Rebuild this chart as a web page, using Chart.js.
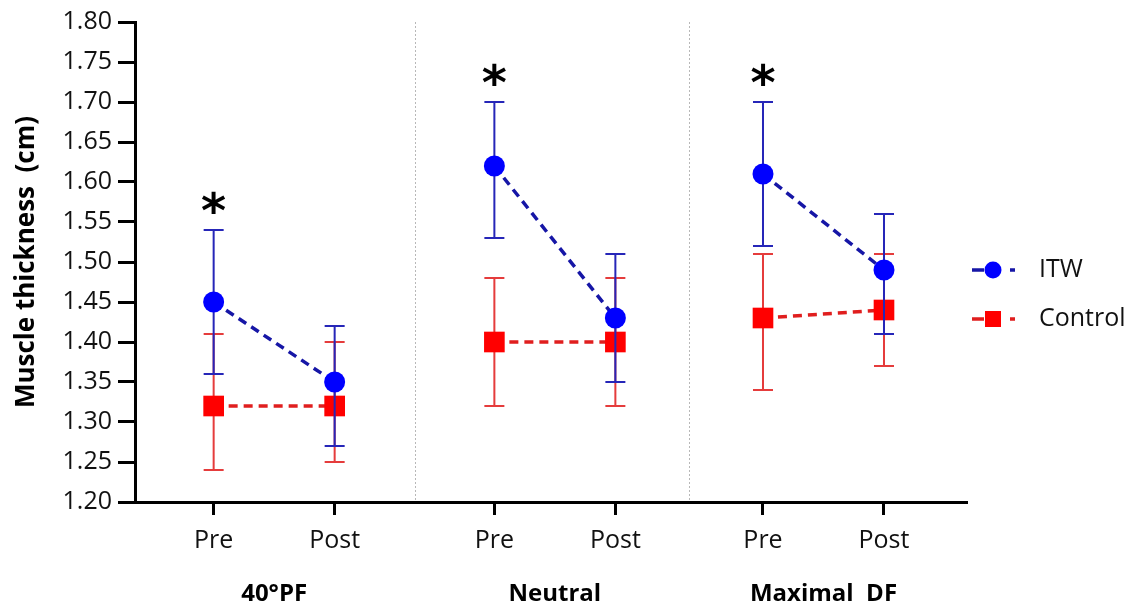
<!DOCTYPE html>
<html><head><meta charset="utf-8">
<script src="https://cdn.jsdelivr.net/npm/chart.js@4"></script>
<style>html,body{margin:0;padding:0;background:#fff}#wrap{width:1131px;height:610px}</style>
</head><body><div id="wrap"><canvas id="c" width="1131" height="610"></canvas></div>
<script>
// ---------- data ----------
const conditions = ['40°PF', 'Neutral', 'Maximal  DF'];
const timepoints = ['Pre', 'Post'];
const yTickLabels = ['1.20','1.25','1.30','1.35','1.40','1.45','1.50','1.55','1.60','1.65','1.70','1.75','1.80'];
const seriesNames = ['ITW', 'Control'];

const itwMean  = [1.45, 1.35, 1.62, 1.43, 1.61, 1.49];
const itwLow   = [1.36, 1.27, 1.53, 1.35, 1.52, 1.41];
const itwHigh  = [1.54, 1.42, 1.70, 1.51, 1.70, 1.56];

const ctrlMean = [1.32, 1.32, 1.40, 1.40, 1.43, 1.44];
const ctrlLow  = [1.24, 1.25, 1.32, 1.32, 1.34, 1.37];
const ctrlHigh = [1.41, 1.40, 1.48, 1.48, 1.51, 1.51];

const itwSignificant = [true, false, true, false, true, false];

// ---------- layout ----------
const FONT = '"Open Sans", sans-serif';
const GROUP_START = [0.65, 2.97, 5.19];
const X_MAX = 6.876;
const xPos = [];
conditions.forEach((c, g) => timepoints.forEach((t, k) => xPos.push(GROUP_START[g] + k)));
const tickText = [];
conditions.forEach(() => timepoints.forEach(t => tickText.push(t)));

function buildPoints(mean) {
  const pts = [];
  mean.forEach((v, i) => {
    pts.push({ x: xPos[i], y: v });
    if (i % 2 === 1 && i < mean.length - 1) pts.push({ x: xPos[i] + 0.3, y: null });
  });
  return pts;
}

const STY = {
  itw:  { marker: '#0000ff', line: '#1616a6', bar: '#2626b8' },
  ctrl: { marker: '#ff0000', line: '#e01e1e', bar: '#e53c3c' }
};

const plugin = {
  id: 'custom',
  beforeDatasetsDraw(chart) {
    const ctx = chart.ctx, xs = chart.scales.x, a = chart.chartArea;
    ctx.save();
    ctx.strokeStyle = '#b8b8b8'; ctx.lineWidth = 1; ctx.setLineDash([2, 2]);
    for (let g = 0; g < conditions.length - 1; g++) {
      const xv = (xPos[g * 2 + 1] + xPos[g * 2 + 2]) / 2;
      const px = Math.round(xs.getPixelForValue(xv)) + 0.5;
      ctx.beginPath(); ctx.moveTo(px, a.top); ctx.lineTo(px, a.bottom); ctx.stroke();
    }
    ctx.restore();
  },
  beforeDatasetDraw(chart, args) {
    const b = args.index === 0 ? { lo: itwLow, hi: itwHigh, c: STY.itw.bar } : { lo: ctrlLow, hi: ctrlHigh, c: STY.ctrl.bar };
    const ctx = chart.ctx, xs = chart.scales.x, ys = chart.scales.y;
    ctx.save(); ctx.strokeStyle = b.c; ctx.lineWidth = 2; ctx.setLineDash([]);
    xPos.forEach((xv, i) => {
      const px = xs.getPixelForValue(xv);
      const y1 = ys.getPixelForValue(b.lo[i]), y2 = ys.getPixelForValue(b.hi[i]);
      ctx.beginPath();
      ctx.moveTo(px, y1); ctx.lineTo(px, y2);
      ctx.moveTo(px - 10, y1); ctx.lineTo(px + 10, y1);
      ctx.moveTo(px - 10, y2); ctx.lineTo(px + 10, y2);
      ctx.stroke();
    });
    ctx.restore();
  },
  afterDraw(chart) {
    const ctx = chart.ctx, xs = chart.scales.x, ys = chart.scales.y;
    ctx.save();
    // asterisks
    ctx.fillStyle = '#000';
    ctx.font = 'bold 48px "DejaVu Sans", sans-serif';
    ctx.textAlign = 'center'; ctx.textBaseline = 'alphabetic';
    const m = ctx.measureText('*');
    itwSignificant.forEach((s, i) => {
      if (!s) return;
      const px = xs.getPixelForValue(xPos[i]);
      const cy = ys.getPixelForValue(itwHigh[i]) - 28;
      ctx.fillText('*', px, cy + (m.actualBoundingBoxAscent - m.actualBoundingBoxDescent) / 2);
    });
    // group labels
    ctx.font = 'bold 24px ' + FONT;
    ctx.textBaseline = 'middle';
    conditions.forEach((c, g) => {
      const px = (xs.getPixelForValue(xPos[g * 2]) + xs.getPixelForValue(xPos[g * 2 + 1])) / 2;
      ctx.fillText(c, px, 594);
    });
    // y title
    ctx.save();
    ctx.translate(27, 262); ctx.rotate(-Math.PI / 2);
    ctx.font = 'bold 26px ' + FONT;
    ctx.fillText('Muscle thickness  (cm)', 0, 0);
    ctx.restore();
    // legend
    const items = [
      { name: seriesNames[0], s: STY.itw, y: 270, shape: 'circle' },
      { name: seriesNames[1], s: STY.ctrl, y: 319, shape: 'square' }
    ];
    items.forEach(it => {
      ctx.strokeStyle = it.s.line; ctx.lineWidth = 3.5; ctx.setLineDash([]);
      ctx.beginPath(); ctx.moveTo(972, it.y); ctx.lineTo(984, it.y); ctx.moveTo(1010, it.y); ctx.lineTo(1015, it.y); ctx.stroke();
      ctx.fillStyle = it.s.marker;
      if (it.shape === 'circle') { ctx.beginPath(); ctx.arc(993, it.y, 8.5, 0, Math.PI * 2); ctx.fill(); }
      else { ctx.fillRect(985, it.y - 8, 16, 16); }
      ctx.fillStyle = '#111';
      ctx.font = '25px ' + FONT; ctx.textAlign = 'left'; ctx.textBaseline = 'middle';
      ctx.fillText(it.name, 1039, it.y);
    });
    ctx.restore();
  }
};

new Chart(document.getElementById('c'), {
  type: 'line',
  data: {
    datasets: [
      {
        label: seriesNames[0], data: buildPoints(itwMean),
        borderColor: STY.itw.line, borderWidth: 3.5, borderDash: [9, 6],
        pointStyle: 'circle', pointRadius: 10.5, pointBackgroundColor: STY.itw.marker,
        pointBorderWidth: 0, spanGaps: false
      },
      {
        label: seriesNames[1], data: buildPoints(ctrlMean),
        borderColor: STY.ctrl.line, borderWidth: 3.5, borderDash: [9, 6],
        pointStyle: 'rect', pointRadius: 14.6, pointBackgroundColor: STY.ctrl.marker,
        pointBorderWidth: 0, spanGaps: false
      }
    ]
  },
  options: {
    responsive: false, animation: false, devicePixelRatio: 1,
    layout: { padding: { top: 22, right: 164, left: 0, bottom: 0 } },
    plugins: { legend: { display: false }, tooltip: { enabled: false } },
    scales: {
      x: {
        type: 'linear', min: 0, max: X_MAX,
        afterBuildTicks(s) { s.ticks = xPos.map(v => ({ value: v })); },
        afterFit(s) { s.height = 108; },
        ticks: { autoSkip: false, maxRotation: 0, padding: 11, color: '#111',
          font: { family: FONT, size: 25 },
          callback: (v, i) => tickText[i] },
        grid: { drawOnChartArea: false, drawTicks: true, tickLength: 13, tickWidth: 3, tickColor: '#000' },
        border: { display: true, width: 3, color: '#000' }
      },
      y: {
        min: 1.2, max: 1.8,
        afterBuildTicks(s) { s.ticks = yTickLabels.map(t => ({ value: parseFloat(t) })); },
        afterFit(s) { s.width = 135; },
        ticks: { padding: 6, color: '#111', font: { family: FONT, size: 25 },
          callback: (v, i) => yTickLabels[i] },
        grid: { drawOnChartArea: false, drawTicks: true, tickLength: 17, tickWidth: 3, tickColor: '#000' },
        border: { display: true, width: 3, color: '#000' }
      }
    }
  },
  plugins: [plugin]
});
</script></body></html>
